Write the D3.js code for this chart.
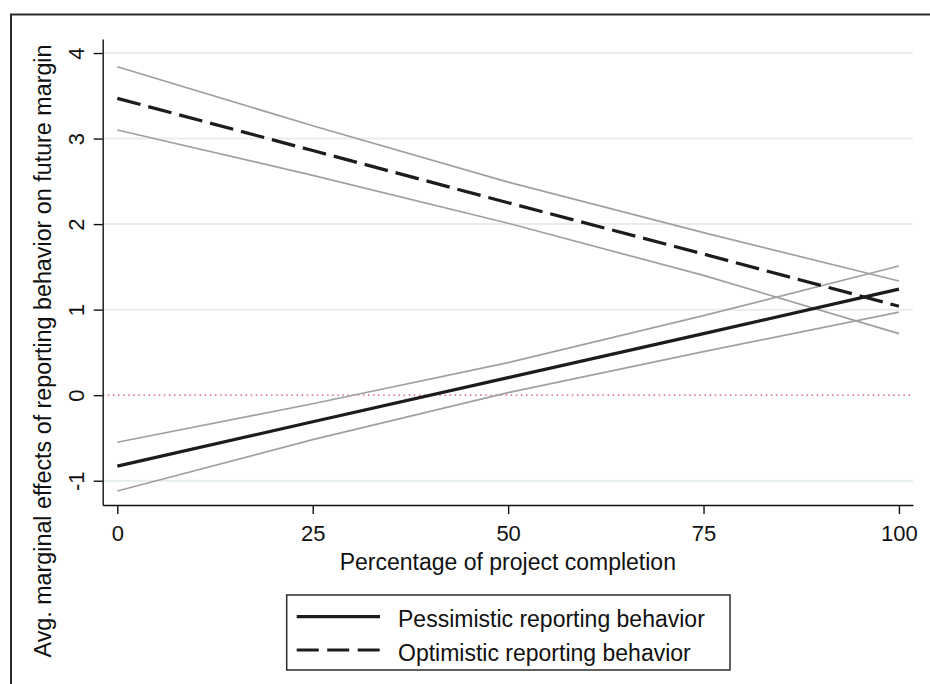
<!DOCTYPE html>
<html>
<head>
<meta charset="utf-8">
<script src="https://cdnjs.cloudflare.com/ajax/libs/d3/7.8.5/d3.min.js"></script>
<style>
  body { margin: 0; background: #fff; }
  svg { display: block; font-family: "Liberation Sans", Arial, sans-serif; }
</style>
</head>
<body>
<script>
const xPoints = [0, 25, 50, 75, 100];
const xTicks = [0, 25, 50, 75, 100];
const yTicks = [-1, 0, 1, 2, 3, 4];
const gridValues = [-1, 1, 2, 3, 4];

const pessEst = [-0.83, -0.31, 0.205, 0.72, 1.24];
const pessLo = [-1.12, -0.52, 0.03, 0.51, 0.97];
const pessHi = [-0.55, -0.10, 0.38, 0.93, 1.51];

const optEst = [3.47, 2.86, 2.25, 1.65, 1.04];
const optLo = [3.10, 2.57, 2.01, 1.40, 0.72];
const optHi = [3.84, 3.15, 2.49, 1.90, 1.335];

const legendLabels = ['Pessimistic reporting behavior', 'Optimistic reporting behavior'];

const w = 930;
const h = 684;
const padLeft = 102.7;
const padRight = 913;
const padTop = 39;
const padBottom = 505;
const dash = '24,8';

const svg = d3.select('body').append('svg').attr('width', w).attr('height', h);

svg.append('rect').attr('x', 11).attr('y', 14.5).attr('width', w + 20).attr('height', h + 20)
  .attr('fill', '#fff').attr('stroke', '#2b2b2b').attr('stroke-width', 2);

const xScale = d3.scaleLinear().domain([-1.87, 101.8]).range([padLeft, padRight]);
const yScale = d3.scaleLinear().domain([-1.284, 4.164]).range([padBottom, padTop]);

// grid
svg.append('g').selectAll('line').data(gridValues).enter().append('line')
  .attr('x1', padLeft).attr('x2', padRight)
  .attr('y1', (d) => yScale(d)).attr('y2', (d) => yScale(d))
  .attr('stroke', '#e6eef1').attr('stroke-width', 2);

svg.append('line')
  .attr('x1', padLeft).attr('x2', padRight)
  .attr('y1', yScale(0)).attr('y2', yScale(0))
  .attr('stroke', '#d04a68').attr('stroke-width', 1.3).attr('stroke-dasharray', '1.5,3.6');

const line = (vals) => d3.line().x((d, i) => xScale(xPoints[i])).y((d) => yScale(d))(vals);

const series = [
  { vals: optHi, color: '#a0a0a0', width: 1.7, dash: null },
  { vals: optLo, color: '#a0a0a0', width: 1.7, dash: null },
  { vals: pessHi, color: '#a0a0a0', width: 1.7, dash: null },
  { vals: pessLo, color: '#a0a0a0', width: 1.7, dash: null },
  { vals: optEst, color: '#1c1c1c', width: 3.2, dash: dash },
  { vals: pessEst, color: '#1c1c1c', width: 3.2, dash: null }
];

svg.append('g').selectAll('path').data(series).enter().append('path')
  .attr('d', (d) => line(d.vals))
  .attr('fill', 'none')
  .attr('stroke', (d) => d.color)
  .attr('stroke-width', (d) => d.width)
  .attr('stroke-dasharray', (d) => d.dash);

// axes
const xAxis = d3.axisBottom(xScale).tickValues(xTicks).tickSize(9).tickSizeOuter(0).tickFormat((d) => String(d));
const yAxis = d3.axisLeft(yScale).tickValues(yTicks).tickSize(9).tickSizeOuter(0).tickFormat((d) => String(d));

const gx = svg.append('g').attr('transform', 'translate(0,' + padBottom + ')').call(xAxis);
gx.attr('font-size', 22).attr('font-family', null);
gx.selectAll('text').attr('y', 35.5).attr('dy', null).attr('fill', '#111');

const gy = svg.append('g').attr('transform', 'translate(' + padLeft + ',0)').call(yAxis);
gy.attr('font-size', 22).attr('font-family', null);
gy.selectAll('text').attr('x', null).attr('dy', null).attr('text-anchor', 'middle')
  .attr('transform', 'translate(-18.7,0) rotate(-90)').attr('fill', '#111');

svg.selectAll('.domain, .tick line').attr('stroke', '#111').attr('stroke-width', 1.4);

svg.append('text').attr('x', (padLeft + padRight) / 2).attr('y', 570).attr('text-anchor', 'middle')
  .attr('font-size', 23).attr('fill', '#111').text('Percentage of project completion');

svg.append('text').attr('transform', 'translate(50.5,351) rotate(-90)').attr('text-anchor', 'middle')
  .attr('font-size', 23.3).attr('fill', '#111').text('Avg. marginal effects of reporting behavior on future margin');

// legend
const legend = svg.append('g');
legend.append('rect').attr('x', 286.7).attr('y', 595).attr('width', 443.3).attr('height', 75)
  .attr('fill', '#fff').attr('stroke', '#2b2b2b').attr('stroke-width', 1.5);

const ly = [616.7, 650];
legend.selectAll('line').data(legendLabels).enter().append('line')
  .attr('x1', 296.7).attr('x2', 380)
  .attr('y1', (d, i) => ly[i]).attr('y2', (d, i) => ly[i])
  .attr('stroke', '#1c1c1c').attr('stroke-width', 3.2)
  .attr('stroke-dasharray', (d, i) => i === 1 ? '22,8.5' : null);

legend.selectAll('text').data(legendLabels).enter().append('text')
  .attr('x', 398).attr('y', (d, i) => ly[i] + 10.5)
  .attr('font-size', 23).attr('fill', '#111').text((d) => d);
</script>
</body>
</html>
